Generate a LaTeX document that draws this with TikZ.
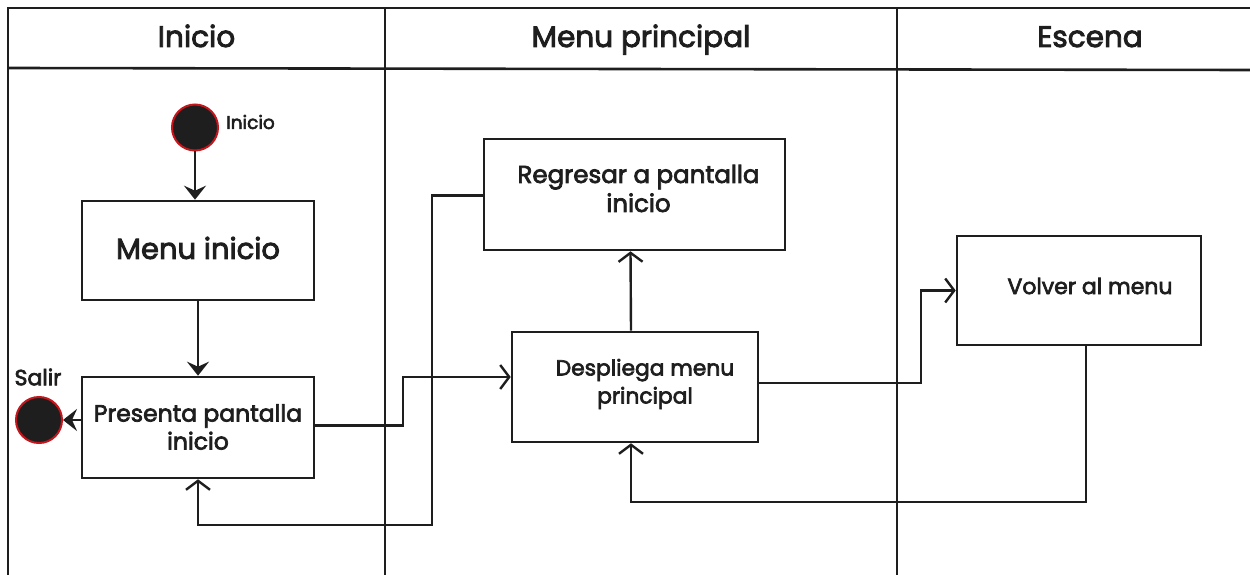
\documentclass[tikz,border=0pt]{standalone}
\usepackage{fontspec}
\setmainfont{Poppins}[FakeBold=3]
\usetikzlibrary{arrows.meta}
\definecolor{ink}{HTML}{1E1E1E}
\definecolor{ring}{HTML}{C4161C}
\begin{document}
\begin{tikzpicture}[x=1pt,y=-1pt,
  frame/.style={draw=ink,line width=2.6pt},
  act/.style={draw=ink,line width=2.6pt,rectangle,inner sep=0pt},
  acttext/.style={text=ink,align=center,inner sep=0pt,font=\fontsize{23.5}{28}\selectfont},
  lanetitle/.style={text=ink,inner sep=0pt,anchor=base,font=\fontsize{29.5}{32}\selectfont},
  dot/.style={circle,fill=ink,draw=ring,line width=2pt,minimum size=46pt,inner sep=0pt},
  flow/.style={draw=ink,line width=2.4pt},
  solidtip/.style={-{Stealth[length=14pt,width=22pt,inset=5pt]}},
  opentip/.style={-{Straight Barb[length=9pt,width=24pt]}}
]
\useasboundingbox (0,0) rectangle (1250,575);

% swimlane frame
\draw[frame] (8,575) -- (8,8) -- (1250,8);
\draw[frame] (8,68) -- (1250,70);
\draw[frame] (385,8) -- (385,575);
\draw[frame] (897,8) -- (897,575);

% lane titles
\node[lanetitle] (t1) at (196.5,47) {Inicio};
\node[lanetitle] (t2) at (641,47) {Menu principal};
\node[lanetitle] (t3) at (1090,47) {Escena};

% start and end points
\node[dot] (start) at (195,127.5) {};
\node[text=ink,anchor=west,inner sep=0pt,font=\fontsize{18.5}{20}\selectfont] (startlbl) at (226,122) {Inicio};
\node[dot] (salir) at (39,420) {};
\node[text=ink,inner sep=0pt,font=\fontsize{22}{24}\selectfont] (salirlbl) at (38,377) {Salir};

% activities
\node[act,minimum width=232pt,minimum height=99pt] (menuini) at (198,250.5) {};
\node[acttext,font=\fontsize{29}{32}\selectfont] (menuini-t) at (198,248) {Menu inicio};

\node[act,minimum width=232pt,minimum height=101pt] (presenta) at (198,427.5) {};
\node[acttext] (presenta-t) at (198,427) {Presenta pantalla\\inicio};

\node[act,minimum width=301pt,minimum height=111pt] (regresar) at (634.5,194.5) {};
\node[acttext,font=\fontsize{24.5}{29}\selectfont] (regresar-t) at (638.5,188.5) {Regresar a pantalla\\inicio};

\node[act,minimum width=246pt,minimum height=110pt] (despliega) at (635,387) {};
\node[acttext,font=\fontsize{21.8}{28}\selectfont] (despliega-t) at (645,384) {Despliega menu\\principal};

\node[act,minimum width=244pt,minimum height=109pt] (volver) at (1079,290.5) {};
\node[acttext,font=\fontsize{22}{28}\selectfont] (volver-t) at (1090,286) {Volver al menu};

% control flow
\draw[flow,solidtip] (start.south) -- (start.south |- menuini.north);
\draw[flow,solidtip] (menuini.south) -- (presenta.north);
\draw[flow,solidtip] (presenta.west |- salir.east) -- (salir.east);
\draw[flow,opentip] ([yshift=2pt]presenta.east) -- (403,425.5) -- (403,377) -- ([yshift=10pt]despliega.west);
\draw[flow,opentip] ([xshift=-4pt]despliega.north) -- ([xshift=-4pt]regresar.south);
\draw[flow,opentip] ([yshift=-1pt]regresar.west) -- (432,195.5) -- (432,525) -- (198,525) -- (presenta.south);
\draw[flow,opentip] ([yshift=4pt]despliega.east) -- (921,383) -- (921,290.5) -- (volver.west);
\draw[flow,opentip] ([xshift=7pt]volver.south) -- (1086,502) -- (631,502) -- ([xshift=-4pt]despliega.south);
\end{tikzpicture}
\end{document}
